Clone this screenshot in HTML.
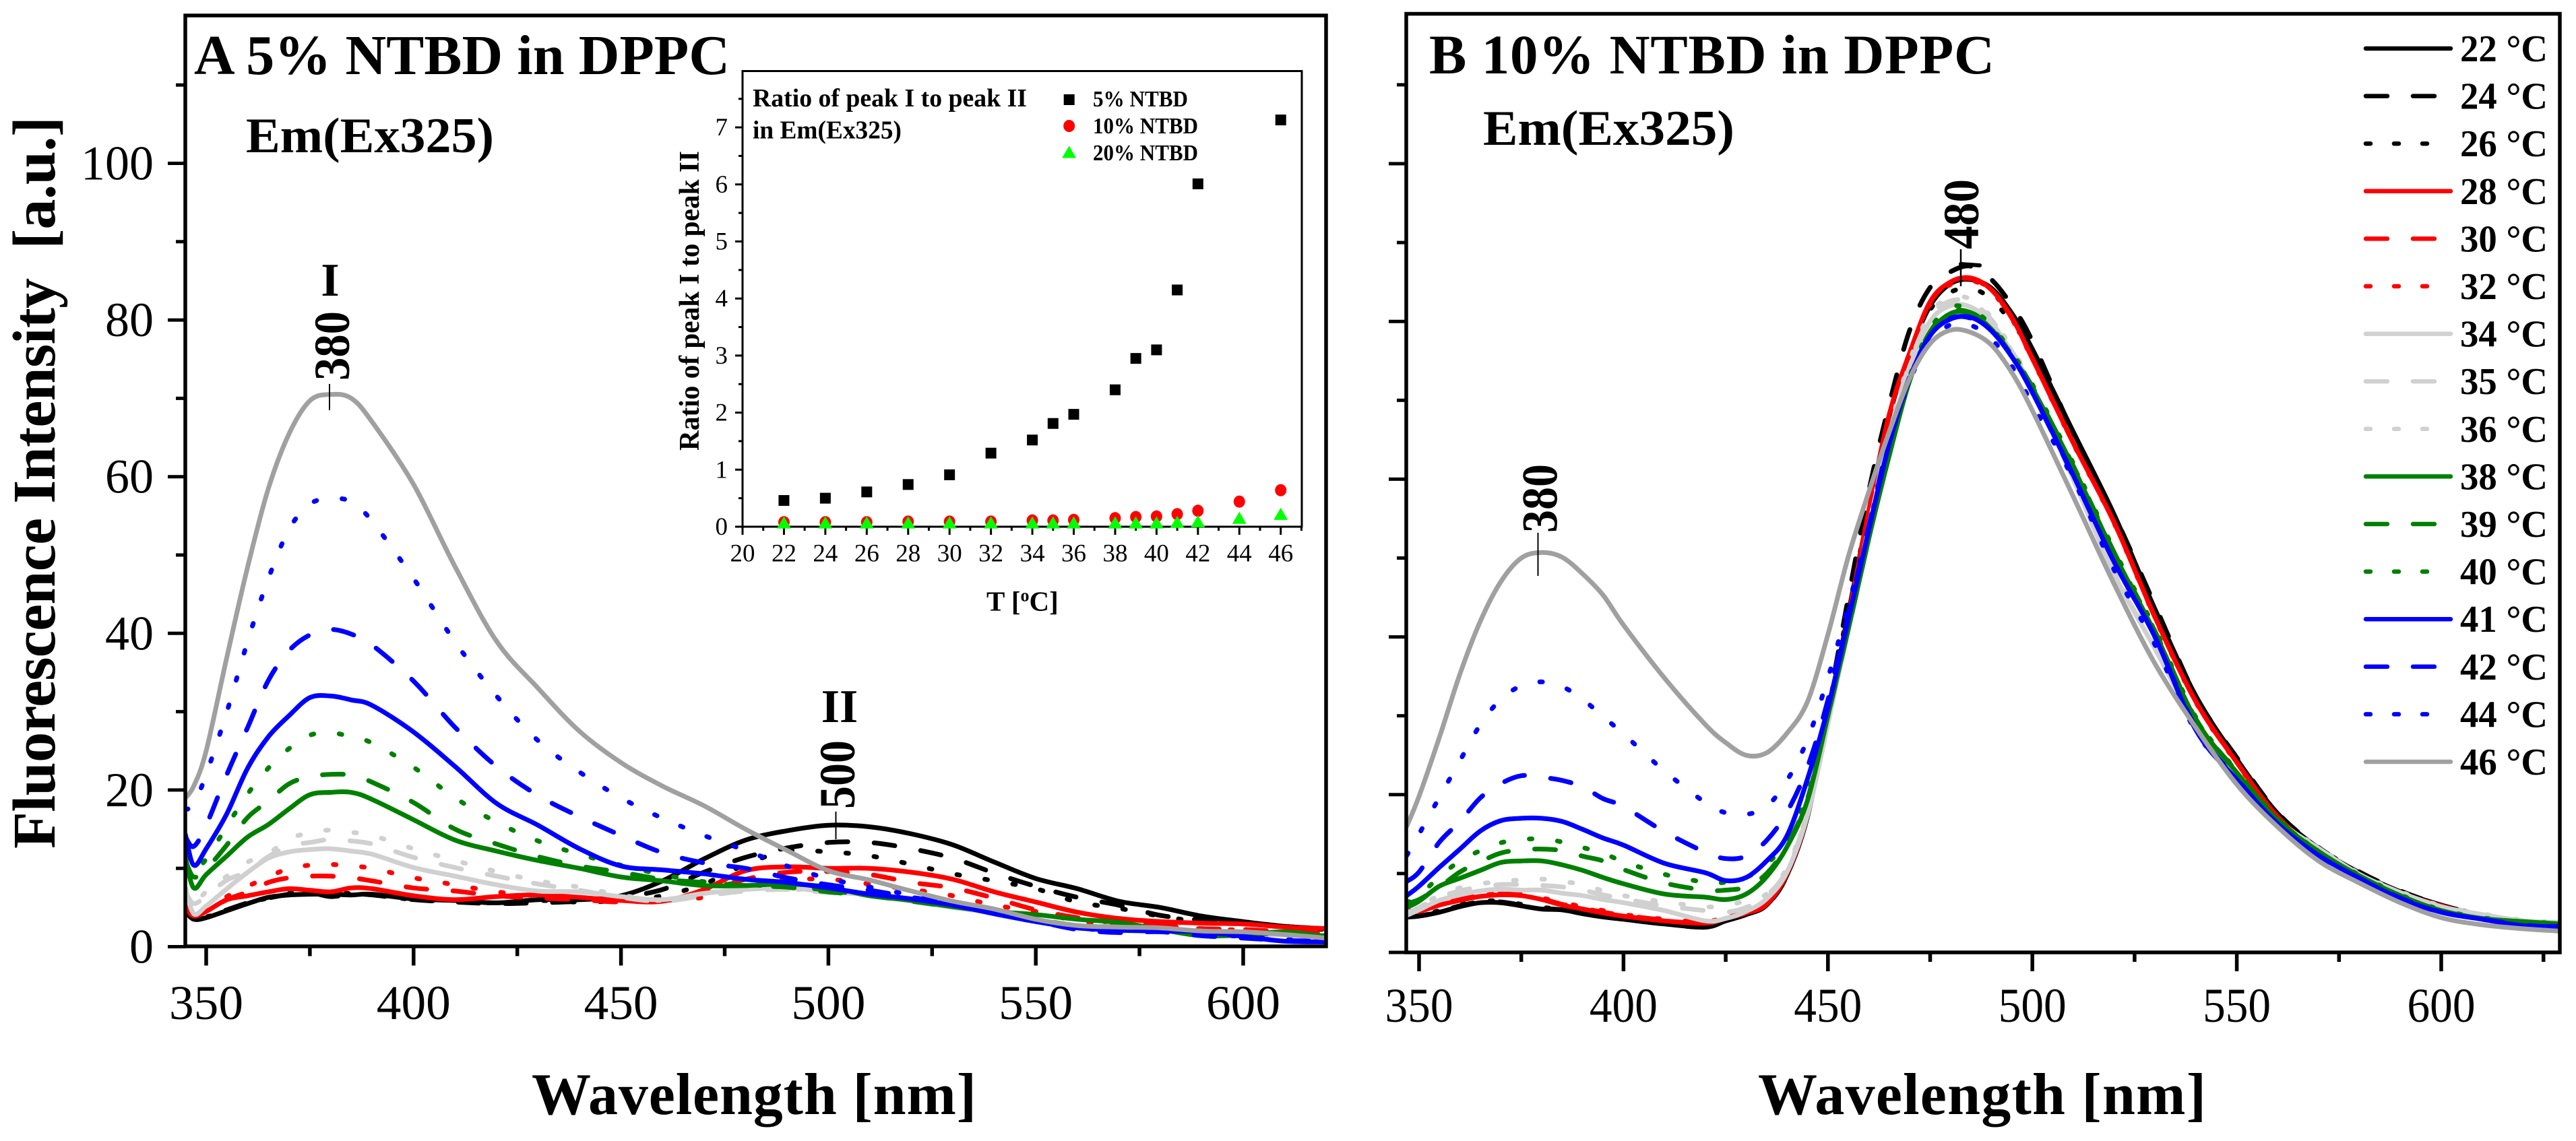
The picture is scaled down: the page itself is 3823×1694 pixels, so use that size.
<!DOCTYPE html>
<html>
<head>
<meta charset="utf-8">
<style>
html,body{margin:0;padding:0;background:#fff;}
svg{display:block;font-family:"Liberation Serif",serif;}
text{fill:#000;}
</style>
</head>
<body>
<svg id="fig" xmlns="http://www.w3.org/2000/svg" width="3823" height="1694" viewBox="0 0 3823 1694">
<rect x="0" y="0" width="3823" height="1694" fill="#fff"/>
<defs>
<clipPath id="clipA"><rect x="275" y="23" width="1693" height="1382"/></clipPath>
<clipPath id="clipB"><rect x="2087" y="20" width="1712" height="1394"/></clipPath>
</defs>
<g id="curvesA" clip-path="url(#clipA)"></g>
<g id="curvesB" clip-path="url(#clipB)"></g>
<rect x="275" y="23" width="1693" height="1382" fill="none" stroke="#000" stroke-width="5.5"/>
<rect x="2087" y="20.5" width="1712" height="1393.5" fill="none" stroke="#000" stroke-width="5.5"/>
<rect x="1102" y="105.5" width="830" height="676.5" fill="none" stroke="#000" stroke-width="3"/>
<g id="axesA"></g>
<g id="axesB"></g>
<g id="inset"></g>
<g id="legend"></g>

<text x="288" y="110" font-size="84" font-weight="bold" textLength="795" lengthAdjust="spacing">A 5% NTBD in DPPC</text>
<text x="365" y="226" font-size="74" font-weight="bold" textLength="368" lengthAdjust="spacingAndGlyphs">Em(Ex325)</text>
<text x="2121" y="109" font-size="83" font-weight="bold" textLength="839" lengthAdjust="spacing">B 10% NTBD in DPPC</text>
<text x="2201" y="215" font-size="74" font-weight="bold" textLength="373" lengthAdjust="spacingAndGlyphs">Em(Ex325)</text>

<text transform="translate(81,1260) rotate(-90)" font-size="90" font-weight="bold" textLength="1087" lengthAdjust="spacing">Fluorescence Intensity&#160; [a.u.]</text>
<text x="789" y="1654" font-size="88" font-weight="bold" textLength="660" lengthAdjust="spacing">Wavelength [nm]</text>
<text x="2609" y="1654" font-size="88" font-weight="bold" textLength="665" lengthAdjust="spacing">Wavelength [nm]</text>

<text x="490" y="439" font-size="70" font-weight="bold" text-anchor="middle">I</text>
<text transform="translate(518,565) rotate(-90)" font-size="75" font-weight="bold" textLength="103" lengthAdjust="spacingAndGlyphs">380</text>
<line x1="489" y1="570" x2="489" y2="609" stroke="#000" stroke-width="2"/>
<text x="1246" y="1072" font-size="70" font-weight="bold" text-anchor="middle">II</text>
<text transform="translate(1268,1201) rotate(-90)" font-size="75" font-weight="bold" textLength="102" lengthAdjust="spacingAndGlyphs">500</text>
<line x1="1240.5" y1="1205" x2="1240.5" y2="1246" stroke="#000" stroke-width="2"/>
<text transform="translate(2310.5,791) rotate(-90)" font-size="75" font-weight="bold" textLength="102" lengthAdjust="spacingAndGlyphs">380</text>
<line x1="2282.5" y1="791" x2="2282.5" y2="855" stroke="#000" stroke-width="2"/>
<text transform="translate(2936,370) rotate(-90)" font-size="75" font-weight="bold" textLength="104" lengthAdjust="spacingAndGlyphs">480</text>
<line x1="2910" y1="370" x2="2910" y2="425" stroke="#000" stroke-width="2.5"/>
<line x1="2910" y1="392" x2="2938" y2="394" stroke="#000" stroke-width="6" stroke-linecap="round"/>
</svg>

<script>
// Panel A — wavelength grid (nm) and intensities (a.u.)
const wavelengthsA = [345,347,350,355,360,365,370,375,380,385,390,400,410,420,430,440,450,460,470,480,490,500,510,520,530,540,550,560,570,580,590,600,610,620];
const a22 = [4.5,3.5,3.7,4.6,5.5,6.3,6.6,6.7,6.7,6.6,6.7,6.1,5.9,5.6,6,6,6.5,8.4,11.2,13.6,14.8,15.5,15.3,14.4,13,10.8,8.7,7.4,5.8,5,3.9,3.2,2.6,2.3];
const a24 = [5,3.6,3.8,4.7,5.6,6.2,6.7,6.9,6.4,6.7,6.6,6,5.7,5.5,5.6,5.8,6.3,7.3,9.5,11.4,12.6,13.3,13.3,12.5,11.3,9.4,7.7,6.3,5.3,4,3.4,3,2.6,2.2];
const a26 = [5,3.6,3.8,4.6,5.6,6.2,6.8,6.8,6.7,6.8,6.7,6,5.8,5.6,5.9,5.7,5.9,6.5,8,10.5,12.2,12.1,11.6,10.5,9.3,8.4,7.4,5.7,4.9,3.9,3.2,3.1,2.4,2.2];
const a28 = [5,3.9,4.5,6,6.5,7,7.4,7.2,7,7.5,7.4,6.5,6,6.4,6.6,6.3,5.9,5.8,7.3,9.7,10.2,10,10,9.5,8.6,7,5.7,4.4,3.6,3.2,3,2.9,2.5,2.3];
const a30 = [5.5,4,4.5,6,7,8.2,8.8,9,9,8.8,8.4,7.5,7.1,6.5,6.2,6,5.7,6,7,8.6,9.5,9.6,9.2,8.2,7.5,6.2,4.7,3.7,3,2.7,2.3,2.2,1.9,1.8];
const a32 = [6,4,4.6,6.4,7.7,8.9,10,10.4,10.5,10.3,10,8.8,7.9,7,6.5,6.3,5.7,5.9,6.3,7.5,8.5,8.6,8,7.3,6.5,5.3,4.5,3.3,2.9,2.7,2.3,2.1,1.9,1.7];
const a34 = [7.5,4.2,5.2,7.4,9.5,11.3,12.1,12.4,12.5,12.2,11.8,10.1,9,7.9,7.1,7,6.4,6,6.8,7.3,7.5,7,6.6,5.8,5,4.3,3.3,2.6,2.4,2.1,1.6,1.6,1.5,1.3];
const a35 = [7,5.5,6.5,8.5,9.6,11.5,12.9,13.3,13.7,13.5,13.1,11.4,10.1,9,8,7.2,6.3,5.8,6.5,7.1,7.3,6.9,6.5,5.9,5,4.3,3.3,2.6,2.5,2.2,1.7,1.7,1.5,1.3];
const a36 = [7.5,5.7,7,9,10.8,11.9,13.8,14.5,14.9,14.6,14.2,12.5,11,9.6,8.4,7.6,6.6,5.9,6.8,7.4,7.4,7,6.6,5.9,5.1,4.3,3.3,2.7,2.6,2.3,1.8,1.7,1.5,1.3];
const a38 = [11.4,7.5,9.2,11.6,14,15.6,17.6,19.4,19.7,19.7,18.8,16.2,13.6,12.2,11,10,8.9,8.4,7.8,7.8,8,7.6,6.5,5.9,5.1,4.5,4.1,3.5,3.1,2.2,1.4,1.5,1.9,1.3];
const a39 = [11,8.9,9.9,13,16.5,18.6,20.8,21.7,22,21.9,21,18.4,15,13.1,11.5,10.3,9.5,8.6,8.2,7.8,7.6,7,6.5,5.8,5.1,4.4,3.5,2.7,2.5,2.3,1.9,1.7,1.6,1.5];
const a40 = [11.5,9.8,11.2,15.4,19.5,22.8,25.3,27,27.3,26.8,26,22.9,19,15.9,13.5,11.8,10.4,9.2,8.3,7.9,7.7,7.2,6.5,6,5.2,4.3,3.4,2.6,2.4,2.2,1.9,1.8,1.5,1.4];
const a41 = [14.3,10.4,12.5,17,22.8,26.8,29.5,31.8,32,31.5,30.8,27.4,23,18.3,15.5,12.5,10.3,9.8,9.3,8.6,8.2,7.5,6.7,6.1,5.3,4.2,3.2,2.4,2.1,2,1.9,1.3,0.7,0.6];
const a42 = [14,12.8,15.5,22,28,34,37.8,39.8,40.5,39.9,38.5,33.9,28,23,19.3,16.6,14.2,12,10.7,10,8.8,7.9,7.2,6.3,5.5,4.6,3.3,2.2,1.8,1.9,1.4,1.1,0.8,0.7];
const a44 = [17.5,18.2,22,30,39,47,53.3,56.5,57.2,56.8,54.3,47,38.9,32,26.3,22.3,19,16.4,14.2,12.3,10.3,8.7,7.6,6.6,5.7,4.8,3.5,2.4,2.1,2.2,1.6,1.3,0.9,0.8];
const a46 = [19,20.5,25,37,48.5,58.5,65.5,69.7,70.5,70,67,59,48.5,39,33,27.5,23.5,20.5,18,15,12.3,9.7,8.5,7.1,5.8,4.8,3.5,2.7,2.5,2.4,2,1.9,1.55,1.1];

// Panel B — wavelength grid (nm) and intensities (a.u.)
const wavelengthsB = [347,350,355,360,365,370,375,380,385,390,395,400,410,420,425,430,435,440,445,450,455,460,465,470,475,480,485,490,495,500,510,520,530,540,550,560,570,580,590,600,610,620,629];
const b22 = [4.5,4.6,5.1,5.8,6.3,6.3,5.9,5.5,5.4,4.9,4.5,4.2,3.6,3.2,4,4.8,6,9.8,17.2,30,43,56,68,76,82,84.8,85.3,84.2,81,76.5,66,55.5,43.5,32.5,24.5,17.6,13.2,10.1,7.7,6,4.7,3.8,3.2];
const b24 = [4.5,4.6,5.2,5.9,6.4,6.4,6,5.6,5.4,4.9,4.5,4.2,3.6,3.2,4,4.8,6,9.8,18,31,45,58.5,69.5,78.9,84.3,86.3,87,85.3,82,77.5,65.8,55.5,44,32.5,24.7,17.7,13.3,10.2,7.8,6,4.7,3.8,3.2];
const b26 = [4.6,4.7,5.3,6,6.5,6.5,6.1,5.7,5.5,5,4.6,4.3,3.7,3.3,4.1,4.9,6.1,9.9,17.3,30.5,43.5,56,68,76,81.5,83.7,84.2,82.8,79.8,76,65.5,54.5,43,31.8,24.3,17.3,13,9.9,7.6,5.9,4.6,3.7,3.2];
const b28 = [5.3,5.2,6,6.6,7.1,7.3,7.2,6.7,6,5.5,5,4.6,4,3.7,4.3,5,6.1,10,17.4,30,42.5,56,68.2,76,82.5,85,85.5,84,80.5,75.3,64.6,54.5,42.5,31.8,24.1,17.2,12.9,9.8,7.5,5.9,4.5,3.7,3.5];
const b30 = [5.2,5.3,6.1,6.7,7.2,7.4,7.3,6.8,6.1,5.6,5.1,4.7,4.1,3.8,4.4,5.1,6.2,10.1,17.5,30,42.5,56,68.2,76,82.4,84.9,85.4,83.9,80.4,75.3,64.6,54.5,42.5,31.8,24.1,17.2,12.9,9.8,7.5,5.9,4.5,3.7,3.5];
const b32 = [5,5.3,6.2,6.8,7.3,7.5,7.4,6.9,6.3,5.8,5.3,4.8,4.2,3.9,4.5,5.2,6.3,10.2,17.6,30.1,42.6,56,68,75.9,82.2,84.7,85.2,83.8,80.3,75.2,64.5,54.4,42.4,31.7,24,17.2,12.9,9.8,7.5,5.9,4.5,3.7,3.5];
const b34 = [4.7,5.4,6.6,7.3,7.8,8,7.9,7.9,7.5,7.2,6.7,6.3,5.3,4,4.3,5.2,6.8,10.2,17.4,29,41,54,65,74,80,82,81.8,79.8,76,71.5,60,48,38.5,29,22.5,16.8,13.2,9.9,7.6,5.8,4.8,4,3.8];
const b35 = [4.9,5.7,7,7.8,8.3,8.6,8.6,8.5,8.3,7.9,7.3,6.8,5.9,5.3,5.1,5.7,7.2,10.5,17.8,29.3,41.3,54,65.7,74.6,80.6,82.6,82.4,80.2,76.2,71.8,60.2,48.2,38.6,29.1,22.6,16.8,13.2,9.9,7.6,5.8,4.8,4,3.8];
const b36 = [5,5.9,7.2,8.2,8.7,9,9.2,9.3,9,8.6,7.8,7.2,6.4,5.8,5.9,6.6,7.4,10.8,18,29.5,41.5,54,66,75,81,83,82.8,80.5,76.5,72,60.5,48.5,38.8,29.2,22.7,16.9,13.3,10,7.7,5.9,4.9,4.1,3.8];
const b38 = [5.7,6.5,8.4,9.4,10.4,11.4,11.6,11.6,11.1,10.4,9.5,8.7,7.4,7,6.7,7.4,9.6,13.4,19.3,30,41,52.5,63,72.5,78.5,81,81,79,75.5,71.5,61.5,50.5,40.5,29.5,22.8,16.8,12.8,9.7,7.2,5.3,4.3,3.9,3.6];
const b39 = [6.2,6.7,8.3,10.2,11.5,12.6,13,13.1,12.9,12.2,11.6,10.5,8.8,7.9,7.9,8.3,10,13.6,19.5,30,41,52.5,63.5,72.7,78.7,81.2,81.1,79.2,75.7,71.7,61.7,50.7,40.7,29.6,22.9,16.9,12.8,9.7,7.2,5.3,4.3,3.9,3.6];
const b40 = [6.3,7.2,9.6,11.6,12.9,13.9,14.3,14.4,14,13.3,12.6,11.5,9.9,8.9,8.9,9.5,11.2,14.2,20,30.2,41.5,53,64,73,79,81.8,81.5,79.5,76,72,62,51,41,29.8,23,17,12.8,9.8,7.3,5.4,4.4,3.9,3.7];
const b41 = [7.2,8.4,10.8,13.1,15.4,16.7,17,17,16.6,15.6,14.5,13.6,11.3,10.1,9.1,9.5,11.6,14.8,22,31,42.2,53.6,64.5,72.8,78.2,80.3,80.5,78.8,75.5,71,60.5,49.5,40,28.2,21.9,16.3,12.3,9.4,6.8,5.1,4.2,3.4,3.3];
const b42 = [9,10.2,14,16.6,19.6,21.4,22.4,22.2,21.8,21,19.5,18.5,15.3,12.7,11.9,12.2,14.2,17.8,23.5,32,43,54,65,73,78.2,80.4,80.4,78.8,75.5,71,60.4,49.5,40,28.5,22,16.3,12.3,9.4,6.9,5.1,4.2,3.5,3.1];
const b44 = [12.3,15,19.7,24.3,28.9,32.1,33.8,34.3,33.7,32.1,29.9,27.7,23,19,17.7,17.5,18.5,21.8,27,34.8,44,54,64.5,72.5,77.3,79.6,79.5,77.8,74.3,69.5,60,48.5,39,28,22,16.2,12.2,9.3,6.8,5.1,4.2,3.3,2.9];
const b46 = [16,19.8,27.3,35.3,42,47,50,50.7,50.1,48,45.3,41.5,34.8,28.9,26.6,25,25.3,27.8,31.8,40.3,50.2,58.4,66,72.8,77.2,78.9,78.6,77,73.5,68.7,57.8,46.7,36.6,28.5,21.3,15.9,11.6,8.8,6.3,4.4,3.5,3,2.7];

// Inset — temperatures and ratios
const tempsFive = [22,24,26,28,30,32,34,35,36,38,39,40,41,42,46];
const ratioFive = [0.46,0.50,0.61,0.74,0.91,1.29,1.52,1.81,1.97,2.40,2.95,3.10,4.15,6.01,7.13];
const tempsTen = [22,24,26,28,30,32,34,35,36,38,39,40,41,42,44,46];
const ratioTen = [0.08,0.08,0.08,0.09,0.09,0.09,0.11,0.11,0.12,0.15,0.17,0.18,0.22,0.28,0.44,0.64];
const tempsTwenty = [22,24,26,28,30,32,34,35,36,38,39,40,41,42,44,46];
const ratioTwenty = [0.07,0.07,0.07,0.07,0.07,0.07,0.07,0.07,0.07,0.07,0.07,0.07,0.08,0.09,0.15,0.22];

// Legend labels and tick values
const legendLabels = ['22 °C','24 °C','26 °C','28 °C','30 °C','32 °C','34 °C','35 °C','36 °C','38 °C','39 °C','40 °C','41 °C','42 °C','44 °C','46 °C'];
const xMajorTicks = [350,400,450,500,550,600];
const xMinorTicksA = [375,425,475,525,575];
const xMinorTicksB = [375,425,475,525,575,625];
const yMajorTicks = [0,20,40,60,80,100];
const yMinorTicks = [10,30,50,70,90,110];
const insetXMajor = [20,22,24,26,28,30,32,34,36,38,40,42,44,46];
const insetXMinor = [21,23,25,27,29,31,33,35,37,39,41,43,45,47];
const insetYMajor = [0,1,2,3,4,5,6,7];
const insetYMinor = [0.5,1.5,2.5,3.5,4.5,5.5,6.5,7.5];
const insetLegendLabels = ['5% NTBD','10% NTBD','20% NTBD'];

const seriesA = [a22,a24,a26,a28,a30,a32,a34,a35,a36,a38,a39,a40,a41,a42,a44,a46];
const seriesB = [b22,b24,b26,b28,b30,b32,b34,b35,b36,b38,b39,b40,b41,b42,b44,b46];
const colors = ['#000','#000','#000','#f00','#f00','#f00','#d0d0d0','#d0d0d0','#d0d0d0','#008000','#008000','#008000','#00f','#00f','#00f','#a0a0a0'];
const dashes = ['none','dash','dot','none','dash','dot','none','dash','dot','none','dash','dot','none','dash','dot','none'];

const NS = 'http://www.w3.org/2000/svg';
const xA = w => 306 + (w - 350) * 6.156;
const yA = v => 1405.5 - v * 11.63;
const xB = w => 2106 + (w - 350) * 6.068;
const yB = v => 1414 - v * 11.71;
const xI = t => 1102 + (t - 20) * 30.72;
const yI = r => 782 - r * 84.7;

function make(tag, attrs, parent) {
  const el = document.createElementNS(NS, tag);
  for (const k in attrs) el.setAttribute(k, attrs[k]);
  parent.appendChild(el);
  return el;
}
function smooth(pts) {
  let d = 'M' + pts[0][0].toFixed(1) + ' ' + pts[0][1].toFixed(1);
  for (let i = 0; i < pts.length - 1; i++) {
    const p0 = pts[Math.max(0, i - 1)], p1 = pts[i], p2 = pts[i + 1], p3 = pts[Math.min(pts.length - 1, i + 2)];
    const c1x = p1[0] + (p2[0] - p0[0]) / 6, c1y = p1[1] + (p2[1] - p0[1]) / 6;
    const c2x = p2[0] - (p3[0] - p1[0]) / 6, c2y = p2[1] - (p3[1] - p1[1]) / 6;
    d += 'C' + c1x.toFixed(1) + ' ' + c1y.toFixed(1) + ' ' + c2x.toFixed(1) + ' ' + c2y.toFixed(1) + ' ' + p2[0].toFixed(1) + ' ' + p2[1].toFixed(1);
  }
  return d;
}
function drawCurves(groupId, grid, series, xf, yf, prefix) {
  const g = document.getElementById(groupId);
  series.forEach((vals, i) => {
    const pts = vals.map((v, j) => [xf(grid[j]), yf(v)]);
    const attrs = {d: smooth(pts), fill: 'none', stroke: colors[i], 'stroke-width': 7, 'stroke-linecap': 'round', 'stroke-linejoin': 'round'};
    if (dashes[i] === 'dash') attrs['stroke-dasharray'] = '31 39';
    if (dashes[i] === 'dot') attrs['stroke-dasharray'] = '4 38';
    const curve = make('path', attrs, g);
    
    
  });
}
drawCurves('curvesA', wavelengthsA, seriesA, xA, yA, 'panel-a');
drawCurves('curvesB', wavelengthsB, seriesB, xB, yB, 'panel-b');

function drawAxes(groupId, xf, yf, x0, y0, xMinor, labelBase, labelLen, prefix, showY) {
  const g = document.getElementById(groupId);
  xMajorTicks.forEach(w => {
    const t = make('line', {x1: xf(w), x2: xf(w), y1: y0, y2: y0 + 28, stroke: '#000', 'stroke-width': 5.5}, g);
    
    
    const l = make('text', {x: xf(w) - labelLen / 2, y: labelBase, 'font-size': 72, textLength: labelLen, lengthAdjust: 'spacingAndGlyphs'}, g);
    l.textContent = String(w);
    
    
  });
  xMinor.forEach(w => {
    const t = make('line', {x1: xf(w), x2: xf(w), y1: y0, y2: y0 + 14, stroke: '#000', 'stroke-width': 5.5}, g);
    
    
  });
  yMajorTicks.forEach(v => {
    const t = make('line', {x1: x0 - 26, x2: x0, y1: yf(v), y2: yf(v), stroke: '#000', 'stroke-width': 5}, g);
    
    
    if (showY) {
      const s = String(v);
      const l = make('text', {x: 228, y: yf(v) + 24, 'font-size': 72, 'text-anchor': 'end'}, g);
      l.textContent = s;
      
      
    }
  });
  yMinorTicks.forEach(v => {
    const t = make('line', {x1: x0 - 14, x2: x0, y1: yf(v), y2: yf(v), stroke: '#000', 'stroke-width': 5}, g);
    
    
  });
}
drawAxes('axesA', xA, yA, 275, 1405.5, xMinorTicksA, 1513, 110, 'panel-a', true);
drawAxes('axesB', xB, yB, 2087, 1414, xMinorTicksB, 1517, 101, 'panel-b', false);

// Legend
const legendG = document.getElementById('legend');
legendLabels.forEach((label, i) => {
  const rowY = 72 + i * 70.6;
  const attrs = {x1: 3511, x2: 3637, y1: rowY, y2: rowY, stroke: colors[i], 'stroke-width': 6.5, 'stroke-linecap': 'round'};
  if (dashes[i] === 'dash') attrs['stroke-dasharray'] = '32 38';
  if (dashes[i] === 'dot') attrs['stroke-dasharray'] = '7 35';
  const sw = make('line', attrs, legendG);
  
  
  const t = make('text', {x: 3651, y: rowY + 19, 'font-size': 56, 'font-weight': 'bold', textLength: 130, lengthAdjust: 'spacingAndGlyphs'}, legendG);
  t.textContent = label;
  
  
});

// Inset
const insetG = document.getElementById('inset');
insetXMajor.forEach(v => {
  const t = make('line', {x1: xI(v), x2: xI(v), y1: 782, y2: 794, stroke: '#000', 'stroke-width': 3}, insetG);
  
  
  const l = make('text', {x: xI(v), y: 833.5, 'font-size': 37, 'text-anchor': 'middle'}, insetG);
  l.textContent = String(v);
  
  
});
insetXMinor.forEach(v => {
  const t = make('line', {x1: xI(v), x2: xI(v), y1: 782, y2: 788, stroke: '#000', 'stroke-width': 3}, insetG);
  
  
});
insetYMajor.forEach(v => {
  const t = make('line', {x1: 1091, x2: 1102, y1: yI(v), y2: yI(v), stroke: '#000', 'stroke-width': 3}, insetG);
  
  
  const l = make('text', {x: 1080, y: yI(v) + 12, 'font-size': 37, 'text-anchor': 'end'}, insetG);
  l.textContent = String(v);
  
  
});
insetYMinor.forEach(v => {
  const t = make('line', {x1: 1096, x2: 1102, y1: yI(v), y2: yI(v), stroke: '#000', 'stroke-width': 3}, insetG);
  
  
});
const insetTitle1 = make('text', {x: 1117, y: 158, 'font-size': 38, 'font-weight': 'bold', textLength: 407, lengthAdjust: 'spacingAndGlyphs'}, insetG);
insetTitle1.textContent = 'Ratio of peak I to peak II';


const insetTitle2 = make('text', {x: 1117, y: 205.5, 'font-size': 38, 'font-weight': 'bold', textLength: 221, lengthAdjust: 'spacingAndGlyphs'}, insetG);
insetTitle2.textContent = 'in Em(Ex325)';


const insetYT = make('text', {transform: 'translate(1037,669) rotate(-90)', 'font-size': 42, 'font-weight': 'bold', textLength: 445, lengthAdjust: 'spacingAndGlyphs'}, insetG);
insetYT.textContent = 'Ratio of peak I to peak II';


const insetXT = make('text', {x: 1464, y: 906.5, 'font-size': 41, 'font-weight': 'bold'}, insetG);


insetXT.appendChild(document.createTextNode('T ['));
const sup = make('tspan', {dy: -14, 'font-size': 26}, insetXT);
sup.textContent = 'o';
const rest = make('tspan', {dy: 14}, insetXT);
rest.textContent = 'C]';

function square(cx, cy) {
  const m = make('rect', {x: cx - 8, y: cy - 8, width: 16, height: 16, fill: '#000'}, insetG);
  
  
}
function circle(cx, cy) {
  const m = make('ellipse', {cx: cx, cy: cy, rx: 8.5, ry: 9, fill: '#f00'}, insetG);
  
  
}
function triangle(cx, cy) {
  const m = make('polygon', {points: (cx - 10.5) + ',' + (cy + 8.5) + ' ' + (cx + 10.5) + ',' + (cy + 8.5) + ' ' + cx + ',' + (cy - 9.5), fill: '#0f0'}, insetG);
  
  
}
tempsFive.forEach((t, i) => square(xI(t), yI(ratioFive[i])));
tempsTen.forEach((t, i) => circle(xI(t), yI(ratioTen[i])));
tempsTwenty.forEach((t, i) => triangle(xI(t), yI(ratioTwenty[i])));

square(1586.7, 148);
circle(1586.7, 187);
triangle(1586.7, 226);
insetLegendLabels.forEach((label, i) => {
  const t = make('text', {x: 1622, y: 158 + i * 40, 'font-size': 34, 'font-weight': 'bold', textLength: i === 0 ? 141 : 156, lengthAdjust: 'spacingAndGlyphs'}, insetG);
  t.textContent = label;
  
  
});
</script>
</body>
</html>
